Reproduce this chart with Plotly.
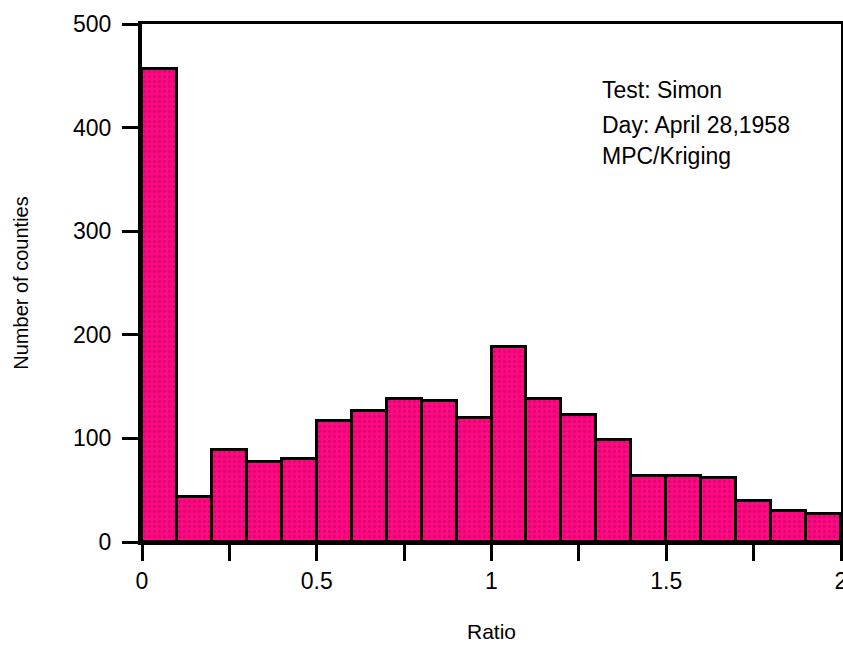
import plotly.graph_objects as go

# Histogram bins (ratio), width 0.1
bin_starts = [0.0, 0.1, 0.2, 0.3, 0.4, 0.5, 0.6, 0.7, 0.8, 0.9,
              1.0, 1.1, 1.2, 1.3, 1.4, 1.5, 1.6, 1.7, 1.8, 1.9]
counts = [457, 43, 89, 77, 80, 117, 126, 138, 136, 120,
          188, 138, 123, 98, 64, 64, 62, 40, 30, 27]
bin_width = 0.1

annotation_lines = ["Test: Simon", "Day: April 28,1958", "MPC/Kriging"]
annotation_y = [451, 417, 387]

x_tick_vals = [0, 0.5, 1, 1.5, 2]
x_tick_text = ["0", "0.5", "1", "1.5", "2"]
y_tick_vals = [0, 100, 200, 300, 400, 500]

FONT = "Liberation Sans, Arial, sans-serif"

fig = go.Figure()
fig.add_trace(go.Bar(
    x=[s + bin_width / 2 for s in bin_starts],
    y=counts,
    width=bin_width,
    marker=dict(
        color="#F5007C",
        line=dict(color="black", width=3),
        pattern=dict(shape=".", size=5, solidity=0.4, fgcolor="#C2005E", bgcolor="#FF0A84"),
    ),
    showlegend=False,
))

for line, yv in zip(annotation_lines, annotation_y):
    fig.add_annotation(
        x=1.31, y=yv, xref="x", yref="y",
        text=line,
        showarrow=False, xanchor="left", yanchor="top", align="left",
        font=dict(family=FONT, size=23, color="black"),
    )

fig.update_layout(
    width=843, height=647,
    margin=dict(l=142, r=2, t=24, b=105),
    paper_bgcolor="white", plot_bgcolor="white",
    font=dict(family=FONT, size=23, color="black"),
    bargap=0,
)
fig.update_xaxes(
    range=[0, 2], automargin=False,
    tickvals=x_tick_vals, ticktext=x_tick_text,
    ticklabeloverflow="allow",
    ticks="outside", ticklen=16, tickwidth=3, tickcolor="black",
    minor=dict(dtick=0.25, tick0=0, ticks="outside", ticklen=16, tickwidth=3, tickcolor="black"),
    showline=True, linewidth=3, linecolor="black", mirror=True,
    showgrid=False, zeroline=False,
    title=dict(text="Ratio", standoff=32, font=dict(size=21)),
)
fig.update_yaxes(
    range=[0, 500], automargin=False,
    tickvals=y_tick_vals,
    ticks="outside", ticklen=16, tickwidth=3, tickcolor="black",
    ticklabelstandoff=6,
    showline=True, linewidth=4, linecolor="black", mirror=True,
    showgrid=False, zeroline=False,
    title=dict(text="Number of counties", standoff=40, font=dict(size=20)),
)

fig.write_html("out.html", config={"displayModeBar": False},
               post_script="document.body.style.margin='0';")
